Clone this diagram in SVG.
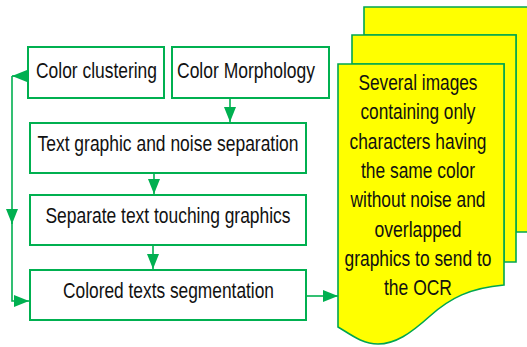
<svg xmlns="http://www.w3.org/2000/svg" width="527" height="347" viewBox="0 0 527 347">
<style>
.box{fill:#fff;stroke:#00B050;stroke-width:2}
.doc{fill:#FFFF00;stroke:#00A650;stroke-width:1.6}
.t{font-family:"Liberation Sans",Arial,sans-serif;font-size:22px;fill:#111;text-anchor:middle}
.c{fill:none;stroke:#00B050;stroke-width:1.6}
</style>
<defs>
<marker id="ah" markerUnits="userSpaceOnUse" markerWidth="15" markerHeight="12" refX="15" refY="6" orient="auto">
<path d="M0,0 L15,6 L0,12 z" fill="#00B050"/>
</marker>
</defs>
<rect width="527" height="347" fill="#fff"/>
<g id="docs">
<path class="doc" d="M364,7 H530 V232 H516 V35 H364 Z"/>
<path class="doc" d="M352,35 H516 V262 H504 V64 H352 Z"/>
<path class="doc" d="M338,64 H504 V285 C470,288 450,298 430,316 C410,334 395,344 378,344 C362,344 350,334 338,327 Z"/>
<text class="t" x="418" y="90" textLength="119" lengthAdjust="spacingAndGlyphs">Several images</text>
<text class="t" x="418" y="119.3" textLength="115" lengthAdjust="spacingAndGlyphs">containing only</text>
<text class="t" x="418" y="148.6" textLength="137" lengthAdjust="spacingAndGlyphs">characters having</text>
<text class="t" x="418" y="177.9" textLength="114" lengthAdjust="spacingAndGlyphs">the same color</text>
<text class="t" x="418" y="207.2" textLength="135" lengthAdjust="spacingAndGlyphs">without noise and</text>
<text class="t" x="418" y="236.5" textLength="87" lengthAdjust="spacingAndGlyphs">overlapped</text>
<text class="t" x="418" y="265.8" textLength="147" lengthAdjust="spacingAndGlyphs">graphics to send to</text>
<text class="t" x="418" y="295" textLength="68" lengthAdjust="spacingAndGlyphs">the OCR</text>
</g>
<g id="clustering">
<rect class="box" x="28" y="47" width="136" height="51"/>
<text class="t" x="96.5" y="78" textLength="121" lengthAdjust="spacingAndGlyphs">Color clustering</text>
</g>
<g id="morphology">
<rect class="box" x="172" y="47" width="157" height="51"/>
<text class="t" x="246" y="78" textLength="138" lengthAdjust="spacingAndGlyphs">Color Morphology</text>
</g>
<g id="separation">
<rect class="box" x="30" y="123" width="276" height="50"/>
<text class="t" x="168" y="151" textLength="261" lengthAdjust="spacingAndGlyphs">Text graphic and noise separation</text>
</g>
<g id="touching">
<rect class="box" x="30" y="195" width="276" height="50"/>
<text class="t" x="168" y="223" textLength="245" lengthAdjust="spacingAndGlyphs">Separate text touching graphics</text>
</g>
<g id="segmentation">
<rect class="box" x="30" y="270" width="276" height="50"/>
<text class="t" x="168.5" y="298" textLength="211" lengthAdjust="spacingAndGlyphs">Colored texts segmentation</text>
</g>
<g id="connectors">
<line class="c" x1="230" y1="98" x2="230" y2="122" marker-end="url(#ah)"/>
<line class="c" x1="154" y1="173" x2="154" y2="194" marker-end="url(#ah)"/>
<line class="c" x1="153" y1="245" x2="153" y2="269" marker-end="url(#ah)"/>
<line class="c" x1="306" y1="296" x2="338" y2="296" marker-end="url(#ah)"/>
<line class="c" x1="28" y1="76" x2="12" y2="76" marker-end="url(#ah)"/>
<line class="c" x1="12" y1="76" x2="12" y2="224" marker-end="url(#ah)"/>
<polyline class="c" points="12,222 12,301 29,301" marker-end="url(#ah)"/>
</g>
</svg>
